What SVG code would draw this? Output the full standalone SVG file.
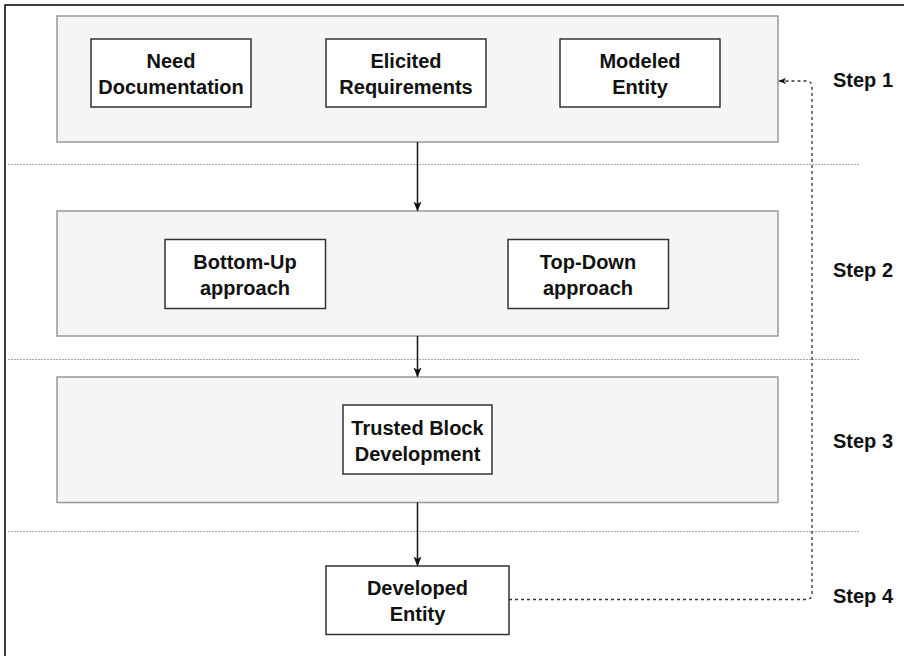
<svg xmlns="http://www.w3.org/2000/svg" width="904" height="656" viewBox="0 0 904 656">
<style>
.frame{fill:none;stroke:#000;stroke-width:1.5}
.cont{fill:#f5f5f5;stroke:#999;stroke-width:1.5}
.box{fill:#fff;stroke:#333;stroke-width:1.5}
.sep{stroke:#aaa;stroke-width:1;stroke-dasharray:2 1;fill:none}
.t{font-family:"Liberation Sans",Arial,Helvetica,sans-serif;font-weight:bold;font-size:20px;fill:#111;text-anchor:middle}
.s{font-family:"Liberation Sans",Arial,Helvetica,sans-serif;font-weight:bold;font-size:20px;fill:#111}
.arr{stroke:#111;stroke-width:1.5;fill:none;marker-end:url(#ah)}
.dash{stroke:#333;stroke-width:1.3;fill:none;stroke-dasharray:3 3;marker-end:url(#ah2)}
</style>
<defs>
<marker id="ah" markerWidth="10" markerHeight="10" viewBox="0 0 10 10" refX="9" refY="5" orient="auto" markerUnits="userSpaceOnUse">
<path d="M0,1 L10,5 L0,9 L2.5,5 Z" fill="#111"/>
</marker>
<marker id="ah2" markerWidth="8" markerHeight="8" viewBox="0 0 10 10" refX="9" refY="5" orient="auto" markerUnits="userSpaceOnUse">
<path d="M0,1 L10,5 L0,9 L2.5,5 Z" fill="#111"/>
</marker>
</defs>
<rect class="frame" x="5" y="5" width="910" height="660"/>
<g id="separators">
<line class="sep" x1="8" y1="164.5" x2="859" y2="164.5"/>
<line class="sep" x1="8" y1="359.5" x2="859" y2="359.5"/>
<line class="sep" x1="8" y1="531.5" x2="859" y2="531.5"/>
</g>
<g id="step1">
<rect class="cont" x="57" y="16" width="721" height="126"/>
<text class="s" x="833" y="87">Step 1</text>
</g>
<g id="need-doc">
<rect class="box" x="91" y="39" width="160" height="68"/>
<text class="t" x="171" y="68">Need</text>
<text class="t" x="171" y="94">Documentation</text>
</g>
<g id="elicited">
<rect class="box" x="326" y="39" width="160" height="68"/>
<text class="t" x="406" y="68">Elicited</text>
<text class="t" x="406" y="94">Requirements</text>
</g>
<g id="modeled">
<rect class="box" x="560" y="39" width="160" height="68"/>
<text class="t" x="640" y="68">Modeled</text>
<text class="t" x="640" y="94">Entity</text>
</g>
<g id="step2">
<rect class="cont" x="57" y="211" width="721" height="125"/>
<text class="s" x="833" y="277">Step 2</text>
</g>
<g id="bottom-up">
<rect class="box" x="165" y="239.5" width="160.5" height="69"/>
<text class="t" x="245" y="269">Bottom-Up</text>
<text class="t" x="245" y="295">approach</text>
</g>
<g id="top-down">
<rect class="box" x="508" y="239.5" width="160.5" height="69"/>
<text class="t" x="588" y="269">Top-Down</text>
<text class="t" x="588" y="295">approach</text>
</g>
<g id="step3">
<rect class="cont" x="57" y="377" width="721" height="125.5"/>
<text class="s" x="833" y="448">Step 3</text>
</g>
<g id="trusted">
<rect class="box" x="343" y="405" width="149" height="69"/>
<text class="t" x="417.5" y="435">Trusted Block</text>
<text class="t" x="417.5" y="461">Development</text>
</g>
<g id="step4">
<text class="s" x="833" y="603">Step 4</text>
</g>
<g id="developed">
<rect class="box" x="326" y="566" width="183" height="68.5"/>
<text class="t" x="417.5" y="595">Developed</text>
<text class="t" x="417.5" y="621">Entity</text>
</g>
<g id="connectors">
<line class="arr" x1="417.5" y1="142" x2="417.5" y2="210.5"/>
<line class="arr" x1="417.5" y1="336" x2="417.5" y2="376.5"/>
<line class="arr" x1="417.5" y1="502.5" x2="417.5" y2="565.5"/>
<path class="dash" d="M509,599.5 L806,599.5 Q812,599.5 812,593.5 L812,87 Q812,81 806,81 L779,81"/>
</g>
</svg>
